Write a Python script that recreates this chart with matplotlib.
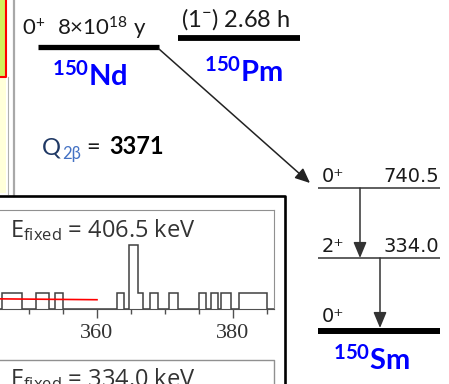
import matplotlib.pyplot as plt
from matplotlib.ticker import MultipleLocator

plt.rcParams['font.family'] = ['Lato', 'DejaVu Sans']
plt.rcParams['mathtext.fontset'] = 'custom'
plt.rcParams['mathtext.rm'] = 'Lato'
plt.rcParams['mathtext.it'] = 'Lato:italic'
plt.rcParams['mathtext.bf'] = 'Lato:bold'
plt.rcParams['mathtext.sf'] = 'Open Sans'

# spectrum around the 406.5 keV gate (step edges in keV, counts per step)
hist_edges = [344.0, 346.0, 349.0, 351.0, 353.0, 353.8, 355.0, 363.0, 364.0, 364.7,
              366.0, 366.7, 367.8, 369.0, 370.6, 371.9, 375.0, 376.0, 376.7, 377.8,
              378.3, 379.7, 380.9, 385.0, 387.0]
hist_counts = [0, 1, 0, 1, 0, 1, 0, 1, 0, 4, 1, 0, 1, 0, 1, 0, 1, 0, 1, 0, 1, 0, 1, 0]
fit_x = [344.0, 360.0]
fit_y = [0.64, 0.58]
tick_labels = [340, 360, 380]

# decay scheme texts
parent = ('0$^{+}$', '8×10$^{18}$ y', r'$^{\mathbf{150}}\mathbf{Nd}$')
middle = ('(1$^{-}$) 2.68 h', r'$^{\mathbf{150}}\mathbf{Pm}$')
q_value = '3371'
sm_spins = ['0⁺', '2⁺', '0⁺']
sm_energies = ['740.5', '334.0', '']
gates = ['406.5', '334.0']

W, H = 449, 384
fig = plt.figure(figsize=(W / 100, H / 100), dpi=100)

# overlay in pixel coordinates
ov = fig.add_axes([0, 0, 1, 1])
ov.set_xlim(0, W)
ov.set_ylim(H, 0)
ov.axis('off')

# bits of neighbouring panels on the left
ov.fill_between([0, 6], 0, 77, color='#d2ef5c', lw=0)
ov.fill_between([0, 6], 77, 193, color='#ffffda', lw=0)
ov.plot([6, 6, 0], [0, 77, 77], color='red', lw=1.5)
ov.plot([7.5, 7.5], [77, 194], color='#b0b0b0', lw=0.8)
ov.plot([13.5, 13.5], [0, 196], color='#a8a8a8', lw=1.6)

# frame around spectra
ov.plot([0, 285, 285], [196, 196, H], color='black', lw=1.9)
ov.plot([0, 274, 274], [360, 360, H], color='#909090', lw=1)

# parent and intermediate levels
ov.plot([38, 159], [47, 47], color='black', lw=3.8, solid_capstyle='butt')
ov.plot([178, 300], [38, 38], color='black', lw=4.2, solid_capstyle='butt')
ov.text(22, 35, parent[0], fontsize=16, color='#1a1a1a')
ov.text(57, 35, parent[1], fontsize=16, color='#1a1a1a')
ov.text(90, 86, parent[2], fontsize=21, color='#0000ff', ha='center')
ov.text(181, 27, middle[0], fontsize=17, color='#1a1a1a')
ov.text(244, 82, middle[1], fontsize=21, color='#0000ff', ha='center')
ov.text(42, 154, 'Q', fontsize=17, color='#1f3864')
ov.text(62, 159, '2β', fontsize=12, color='#4472c4')
ov.text(86, 154, '=', fontsize=17, color='#1a1a1a')
ov.text(109, 154, q_value, fontsize=17, color='black', fontweight='bold')

ov.annotate('', xy=(310, 183), xytext=(159, 49),
            arrowprops=dict(arrowstyle='-|>,head_length=0.5,head_width=0.22',
                            color='#222222', lw=1.1, mutation_scale=18,
                            shrinkA=0, shrinkB=0))

# 150Sm levels
lev_y = [188, 258, 331]
for i, y in enumerate(lev_y):
    lw = 4.3 if i == 2 else 1.1
    ov.plot([318, 440], [y, y], color='black' if i == 2 else '#333333', lw=lw,
            solid_capstyle='butt')
    ov.text(322, y - 6 if i < 2 else y - 9, sm_spins[i], fontsize=14,
            color='#1a1a1a', family='DejaVu Sans')
    if sm_energies[i]:
        ov.text(439, y - 6, sm_energies[i], fontsize=14, color='#1a1a1a',
                family='DejaVu Sans', ha='right')
for x, y0, y1 in [(360, 188, 258), (380, 258, 328)]:
    ov.annotate('', xy=(x, y1), xytext=(x, y0),
                arrowprops=dict(arrowstyle='-|>,head_length=0.6,head_width=0.25',
                                color='#333333', lw=1.1, mutation_scale=16,
                                shrinkA=0, shrinkB=0))
ov.text(372, 370, r'$^{\mathbf{150}}\mathbf{Sm}$', fontsize=21, color='#0000ff',
        ha='center')

# gate labels
ov.text(10, 237, r'$\mathsf{E_{fixed}}$ = ' + gates[0] + ' keV', fontsize=17,
        color='#333333', family='Open Sans')
ov.text(10, 386, r'$\mathsf{E_{fixed}}$ = ' + gates[1] + ' keV', fontsize=17,
        color='#333333', family='Open Sans')

# spectrum
px_per_kev = 6.8
ax = fig.add_axes([0, (H - 309) / H, 274 / W, 99 / H])
ax.set_facecolor('none')
ax.stairs(hist_counts, hist_edges, color='#404040', lw=1.1)
ax.plot(fit_x, fit_y, color='red', lw=1.2)
ax.set_xticks(tick_labels)
ax.xaxis.set_minor_locator(MultipleLocator(5))
ax.set_xlim(360 - 97 / px_per_kev, 360 + 177 / px_per_kev)
ax.set_ylim(0, 99 / 16)
ax.set_yticks([])
ax.spines['left'].set_visible(False)
for s in ['top', 'right']:
    ax.spines[s].set_color('#909090')
ax.spines['bottom'].set_color('#505050')
ax.tick_params(axis='x', which='major', direction='out', length=6.5, width=1,
               color='#505050', labelsize=16, labelcolor='#333333', pad=4)
ax.tick_params(axis='x', which='minor', direction='out', length=3.6, width=1,
               color='#505050')
for lab in ax.get_xticklabels():
    lab.set_family('Liberation Serif')

fig.savefig('out.png', dpi=100)
